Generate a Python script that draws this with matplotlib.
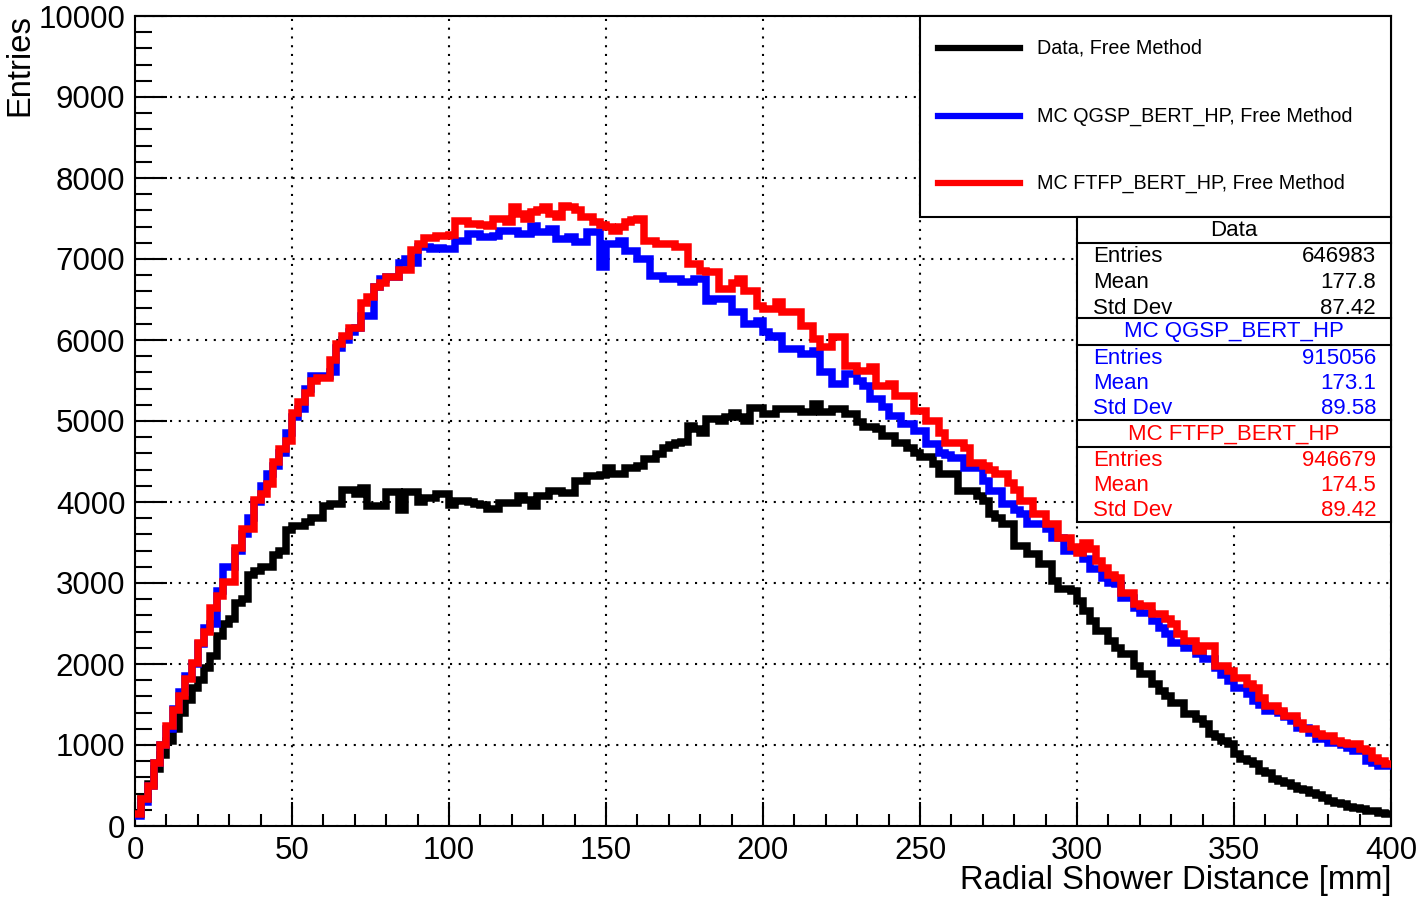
import numpy as np
import matplotlib
matplotlib.use("Agg")
import matplotlib.pyplot as plt
from matplotlib.patches import Rectangle
from matplotlib.lines import Line2D
from matplotlib.ticker import MultipleLocator

plt.rcParams['font.family'] = ['Liberation Sans', 'DejaVu Sans']

# Radial shower profile, 2 mm bins from 0 to 400 mm
bin_width = 2.0
x_min, x_max = 0.0, 400.0

data_free = [
    150, 330, 520, 700, 880, 1050, 1200, 1400, 1550, 1700,
    1800, 1950, 2100, 2350, 2500, 2550, 2750, 2800, 3100, 3150,
    3200, 3200, 3350, 3400, 3650, 3700, 3700, 3750, 3800, 3800,
    3950, 3980, 3980, 4150, 4150, 4100, 4170, 3950, 3950, 3950,
    4120, 4120, 3900, 4120, 4120, 4000, 4050, 4050, 4100, 4100,
    3960, 4010, 4010, 4000, 3970, 3960, 3910, 3910, 3990, 3990,
    3990, 4070, 4030, 3950, 4080, 4080, 4130, 4130, 4110, 4110,
    4260, 4260, 4320, 4320, 4330, 4420, 4340, 4340, 4420, 4420,
    4450, 4525, 4525, 4590, 4670, 4700, 4730, 4740, 4940, 4900,
    4850, 5020, 5020, 5000, 5050, 5100, 5050, 5000, 5165, 5165,
    5085, 5085, 5146, 5146, 5146, 5146, 5105, 5105, 5210, 5105,
    5105, 5146, 5146, 5085, 5085, 4990, 4920, 4920, 4900, 4816,
    4816, 4734, 4734, 4672, 4600, 4550, 4550, 4466, 4342, 4342,
    4342, 4136, 4136, 4136, 4070, 4012, 3847, 3800, 3724, 3724,
    3455, 3455, 3352, 3352, 3229, 3229, 3022, 2922, 2922, 2900,
    2778, 2654, 2530, 2407, 2407, 2284, 2200, 2120, 2120, 1975,
    1873, 1873, 1750, 1667, 1600, 1523, 1523, 1379, 1379, 1317,
    1255, 1132, 1100, 1050, 1008, 885, 823, 800, 761, 679,
    650, 576, 560, 535, 494, 453, 440, 412, 380, 350,
    309, 290, 268, 240, 227, 206, 190, 180, 160, 145,
]

mc_qgsp = [
    120, 300, 500, 780, 1000, 1200, 1450, 1650, 1850, 2000,
    2250, 2450, 2500, 2900, 3200, 3200, 3400, 3600, 3800, 4000,
    4200, 4350, 4450, 4600, 4850, 5050, 5150, 5400, 5550, 5550,
    5550, 5600, 5900, 6000, 6100, 6150, 6300, 6300, 6650, 6750,
    6780, 6780, 6950, 7000, 6950, 7150, 7150, 7120, 7130, 7120,
    7124, 7227, 7227, 7309, 7309, 7268, 7268, 7290, 7350, 7350,
    7350, 7309, 7309, 7412, 7330, 7330, 7371, 7247, 7247, 7268,
    7206, 7206, 7330, 7330, 6897, 7185, 7185, 7227, 7103, 7103,
    7000, 7000, 6794, 6794, 6753, 6753, 6753, 6711, 6711, 6753,
    6753, 6484, 6505, 6505, 6505, 6340, 6340, 6196, 6196, 6237,
    6100, 6033, 6054, 5889, 5889, 5889, 5827, 5827, 5868, 5600,
    5600, 5456, 5456, 5579, 5579, 5500, 5435, 5270, 5270, 5167,
    5064, 5064, 4961, 4961, 4878, 4878, 4713, 4713, 4610, 4580,
    4548, 4548, 4425, 4425, 4425, 4260, 4136, 4136, 3971, 3971,
    3900, 3847, 3724, 3724, 3724, 3662, 3559, 3559, 3394, 3394,
    3416, 3300, 3169, 3169, 3066, 3000, 2984, 2819, 2819, 2696,
    2634, 2634, 2531, 2450, 2366, 2263, 2263, 2202, 2202, 2119,
    2058, 2058, 1955, 1870, 1790, 1708, 1708, 1626, 1543, 1500,
    1420, 1420, 1400, 1350, 1297, 1214, 1214, 1152, 1070, 1070,
    1029, 1029, 1000, 967, 926, 926, 803, 780, 741, 741,
]

mc_ftfp = [
    150, 330, 500, 780, 1005, 1230, 1430, 1600, 1810, 2010,
    2260, 2390, 2690, 2840, 3015, 3015, 3430, 3670, 3670, 4020,
    4100, 4220, 4500, 4650, 4750, 5100, 5230, 5350, 5500, 5530,
    5530, 5750, 5950, 6050, 6150, 6150, 6460, 6530, 6660, 6700,
    6780, 6780, 6860, 6860, 7110, 7190, 7260, 7260, 7290, 7290,
    7300, 7474, 7474, 7433, 7433, 7420, 7412, 7495, 7495, 7453,
    7640, 7560, 7495, 7577, 7600, 7640, 7560, 7515, 7660, 7640,
    7600, 7515, 7515, 7453, 7420, 7392, 7350, 7400, 7453, 7480,
    7495, 7227, 7227, 7185, 7185, 7185, 7144, 7144, 6938, 6938,
    6856, 6835, 6835, 6630, 6630, 6700, 6753, 6608, 6608, 6423,
    6384, 6384, 6466, 6342, 6342, 6342, 6177, 6177, 6012, 5909,
    5909, 6033, 6033, 5682, 5682, 5621, 5621, 5662, 5435, 5435,
    5456, 5311, 5311, 5311, 5126, 5126, 5002, 5002, 4850, 4734,
    4734, 4734, 4672, 4486, 4486, 4445, 4400, 4342, 4342, 4239,
    4150, 4012, 4012, 3847, 3847, 3724, 3724, 3559, 3559, 3450,
    3375, 3498, 3420, 3272, 3189, 3100, 3066, 2880, 2880, 2737,
    2716, 2716, 2613, 2613, 2550, 2490, 2366, 2284, 2284, 2160,
    2222, 2222, 1975, 1975, 1914, 1831, 1831, 1749, 1700, 1584,
    1481, 1481, 1420, 1358, 1358, 1276, 1194, 1194, 1132, 1111,
    1111, 1050, 1029, 1008, 1008, 950, 926, 844, 800, 762,
]

legend_labels = ["Data, Free Method",
                 "MC QGSP_BERT_HP, Free Method",
                 "MC FTFP_BERT_HP, Free Method"]
stat_titles = ["Data", "MC QGSP_BERT_HP", "MC FTFP_BERT_HP"]
stat_entries = ["646983", "915056", "946679"]
stat_means = ["177.8", "173.1", "174.5"]
stat_stds = ["87.42", "89.58", "89.42"]
colors = ["black", "#0000ff", "#ff0000"]

W, H = 1421, 900
fig = plt.figure(figsize=(W / 100, H / 100), dpi=100)
ax = fig.add_axes([135 / W, 1 - 826 / H, (1391 - 135) / W, (826 - 16) / H])

edges = np.arange(x_min, x_max + bin_width / 2, bin_width)
for vals, col in zip([data_free, mc_qgsp, mc_ftfp], colors):
    ax.stairs(vals, edges, color=col, lw=5.4, baseline=None, zorder=3,
              joinstyle='miter')

ax.set_xlim(x_min, x_max)
ax.set_ylim(0, 10000)
ax.xaxis.set_major_locator(MultipleLocator(50))
ax.xaxis.set_minor_locator(MultipleLocator(10))
ax.yaxis.set_major_locator(MultipleLocator(1000))
ax.yaxis.set_minor_locator(MultipleLocator(200))
ax.tick_params(axis='both', which='both', direction='in', width=1.5,
               top=False, right=False, labelsize=22.5, color='black')
ax.tick_params(axis='x', which='major', length=17, pad=7)
ax.tick_params(axis='x', which='minor', length=8.5)
ax.tick_params(axis='y', which='major', length=23, pad=7)
ax.tick_params(axis='y', which='minor', length=12)
for sp in ax.spines.values():
    sp.set_linewidth(1.5)
ax.grid(True, which='major', color='black', lw=1.5, linestyle=(0, (1, 3.2)),
        zorder=1)
ax.set_axisbelow(True)

fig.text(1391 / W, 1 - 881 / H, "Radial Shower Distance [mm]", ha='right',
         va='center', fontsize=23.6)
fig.text(20 / W, 1 - 14 / H, "Entries", rotation=90, ha='center', va='top',
         fontsize=23.6)

# Overlay in pixel coordinates for the legend and statistics boxes
ov = fig.add_axes([0, 0, 1, 1], facecolor='none')
ov.set_xlim(0, W)
ov.set_ylim(H, 0)
ov.axis('off')

ov.add_patch(Rectangle((920, 16), 1391 - 920, 217 - 16, facecolor='white',
                       edgecolor='black', lw=1.5, zorder=5))
for lab, col, yy in zip(legend_labels, colors, [48, 116, 183]):
    ov.add_line(Line2D([938, 1020], [yy, yy], color=col, lw=4.5, zorder=6))
    ov.text(1037, yy, lab, ha='left', va='center', fontsize=14.2,
            color='black', zorder=6)

bx0, bx1 = 1077, 1391
ov.add_patch(Rectangle((bx0, 217), bx1 - bx0, 522 - 217, facecolor='white',
                       edgecolor='black', lw=1.5, zorder=5))
for yy in [243, 318, 345, 420, 447]:
    ov.add_line(Line2D([bx0, bx1], [yy, yy], color='black', lw=1.5, zorder=6))

section_top = [217, 318, 420]
for i in range(3):
    t0 = section_top[i]
    col = colors[i]
    ov.text((bx0 + bx1) / 2, t0 + 14, stat_titles[i], ha='center',
            va='center', fontsize=16, color=col, zorder=7)
    rows = [("Entries", stat_entries[i]), ("Mean", stat_means[i]),
            ("Std Dev", stat_stds[i])]
    for j, (k, v) in enumerate(rows):
        yy = t0 + 40 + 25.5 * j
        ov.text(1093, yy, k, ha='left', va='center', fontsize=16, color=col,
                zorder=7)
        ov.text(1376, yy, v, ha='right', va='center', fontsize=16, color=col,
                zorder=7)

fig.savefig("out.png", dpi=100, facecolor='white')
